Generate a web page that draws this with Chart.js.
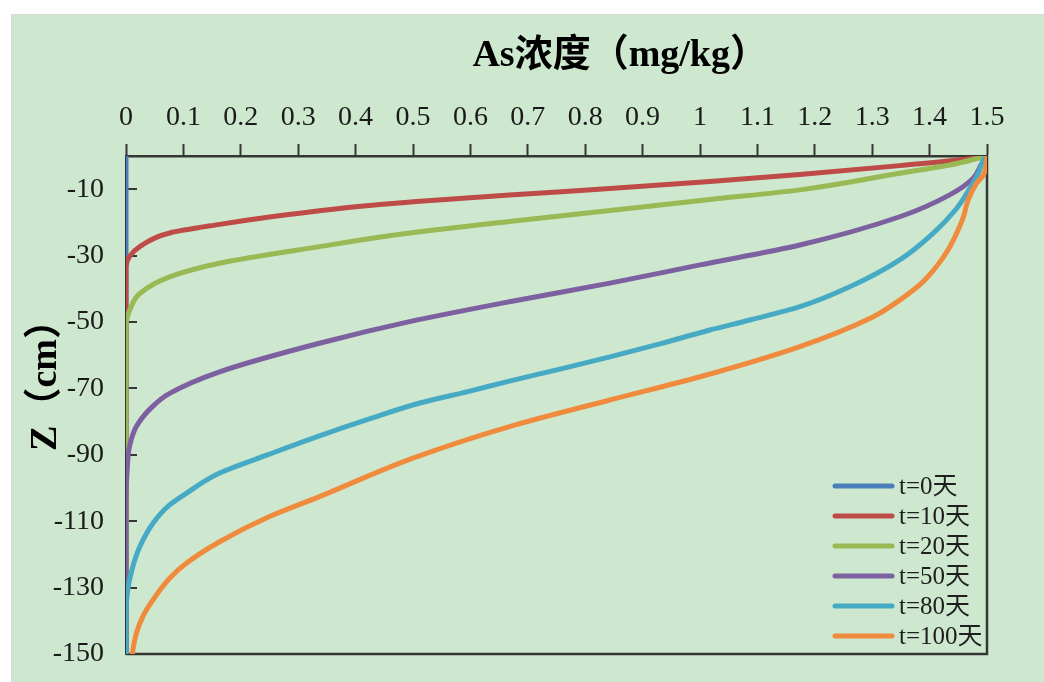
<!DOCTYPE html>
<html>
<head>
<meta charset="utf-8">
<script src="https://cdn.jsdelivr.net/npm/chart.js@4.4.1/dist/chart.umd.min.js"></script>
<style>
  html, body { margin: 0; padding: 0; background: #ffffff; }
  #frame {
    position: absolute; left: 11px; top: 14px; width: 1033px; height: 668px;
    box-sizing: border-box; background: #cde8cf;
    border-left: 1px solid #d8d8d8; border-top: 1px solid #d8d8d8;
  }
  #wrap { position: absolute; left: 0; top: 0; width: 1032px; height: 667px; }
</style>
</head>
<body>
<div id="frame"><div id="wrap"><canvas id="c"></canvas></div></div>
<script>
// Axis ticks
const xTicks = [0, 0.1, 0.2, 0.3, 0.4, 0.5, 0.6, 0.7, 0.8, 0.9, 1, 1.1, 1.2, 1.3, 1.4, 1.5];
const yTicks = [-150, -130, -110, -90, -70, -50, -30, -10];

// Series labels and colours
const seriesLabels = ['t=0天', 't=10天', 't=20天', 't=50天', 't=80天', 't=100天'];
const seriesColors = ['#4a7ebb', '#be4b48', '#98b954', '#7d60a0', '#46aac5', '#f08a3c'];

// Depth (cm) and As concentration (mg/kg) for each time
const depthT0 = [0, -150];
const concT0  = [0, 0];

const depthT10 = [0, -0.45, -2.9, -5.6, -7.7, -9.8, -11.75, -12.6, -13.6, -14.9, -16.5, -18.4, -20.6, -23.2, -27.3, -30.3, -33.4, -150];
const concT10  = [1.5, 1.488, 1.348, 1.174, 1.017, 0.843, 0.668, 0.599, 0.512, 0.424, 0.337, 0.250, 0.163, 0.076, 0.024, 0.006, 0, 0];

const depthT20 = [0, -2.7, -5.2, -10.2, -13.1, -16.4, -19.7, -23.2, -27.3, -32.3, -36.4, -41.4, -45.4, -51.4, -150];
const concT20  = [1.5, 1.435, 1.348, 1.174, 1.017, 0.843, 0.668, 0.494, 0.337, 0.163, 0.076, 0.024, 0.009, 0, 0];

const depthT50 = [0, -2.2, -6.7, -11.7, -18.3, -26.8, -32.8, -38.3, -43.9, -49.9, -56.4, -65.0, -71.5, -75.5, -81.5, -87.6, -94.6, -103.6, -150];
const concT50  = [1.5, 1.491, 1.476, 1.435, 1.348, 1.174, 1.0, 0.843, 0.668, 0.494, 0.337, 0.163, 0.076, 0.046, 0.018, 0.006, 0.002, 0, 0];

const depthT80 = [0, -1.2, -5.2, -11.2, -15.8, -23.3, -31.3, -39.4, -45.4, -49.4, -52.4, -56.6, -60.5, -64.2, -67.8, -70.8, -74.4, -79.2, -84.3, -89.8, -95.5, -101.6, -105.1, -110.6, -117.7, -123.6, -130.7, -138, -150];
const concT80  = [1.5, 1.494, 1.485, 1.465, 1.447, 1.406, 1.348, 1.261, 1.174, 1.087, 1.017, 0.930, 0.843, 0.756, 0.668, 0.599, 0.512, 0.424, 0.337, 0.250, 0.163, 0.105, 0.076, 0.047, 0.024, 0.012, 0.003, 0, 0];

const depthT100 = [0, -5.7, -8.2, -13.3, -18.3, -23.3, -28.3, -33.3, -38.3, -43.4, -48.4, -57.4, -66.5, -73.5, -81.5, -91.0, -102.6, -108.6, -116.2, -122.7, -127.2, -133.7, -138.8, -143.8, -148.8, -150];
const concT100  = [1.5, 1.494, 1.482, 1.467, 1.459, 1.447, 1.432, 1.412, 1.386, 1.348, 1.302, 1.174, 1.0, 0.843, 0.668, 0.50, 0.337, 0.250, 0.163, 0.105, 0.076, 0.047, 0.029, 0.018, 0.012, 0.011];

const depths = [depthT0, depthT10, depthT20, depthT50, depthT80, depthT100];
const concs  = [concT0, concT10, concT20, concT50, concT80, concT100];

const AXIS = '#363636';
const SERIF = "'Liberation Serif', 'Noto Sans CJK SC', serif";

const datasets = seriesLabels.map((label, i) => ({
  label,
  data: depths[i].map((d, k) => ({ x: concs[i][k], y: d })),
  borderColor: seriesColors[i],
  backgroundColor: seriesColors[i],
  borderWidth: 5,
  borderCapStyle: 'round',
  borderJoinStyle: 'round',
  pointRadius: 0,
  fill: false,
  cubicInterpolationMode: 'monotone',
  order: seriesLabels.length - i
}));

// Frame lines, inner y ticks, axis titles and the legend box
const decor = {
  id: 'decor',
  beforeDatasetsDraw(chart) {
    const { ctx, chartArea: a, scales: { y } } = chart;
    ctx.save();
    ctx.strokeStyle = AXIS;
    ctx.lineWidth = 2.5;
    ctx.beginPath();
    ctx.moveTo(a.right, a.top);
    ctx.lineTo(a.right, a.bottom);
    ctx.lineTo(a.left, a.bottom);
    ctx.stroke();
    ctx.lineWidth = 2;
    yTicks.forEach(v => {
      const py = Math.round(y.getPixelForValue(v));
      ctx.beginPath();
      ctx.moveTo(a.left, py);
      ctx.lineTo(a.left + 11, py);
      ctx.stroke();
    });
    ctx.restore();
  },
  afterDatasetsDraw(chart) {
    const { ctx, chartArea: a } = chart;
    ctx.save();
    // legend
    ctx.font = '25px ' + SERIF;
    ctx.textBaseline = 'middle';
    ctx.textAlign = 'left';
    seriesLabels.forEach((label, i) => {
      const yy = a.bottom - 168 + i * 30;
      ctx.strokeStyle = seriesColors[i];
      ctx.lineWidth = 5;
      ctx.lineCap = 'round';
      ctx.beginPath();
      ctx.moveTo(a.right - 152, yy);
      ctx.lineTo(a.right - 95, yy);
      ctx.stroke();
      ctx.fillStyle = '#1e1e1e';
      ctx.fillText(label, a.right - 88, yy + 1);
    });
    // axis titles
    ctx.fillStyle = '#000';
    ctx.font = 'bold 38px ' + SERIF;
    ctx.textAlign = 'center';
    ctx.fillText('As浓度（mg/kg）', a.left + (a.right - a.left) * 0.574, 41);
    ctx.font = 'bold 38px ' + SERIF;
    ctx.translate(34, 361);
    ctx.rotate(-Math.PI / 2);
    ctx.fillText('Z（cm）', 0, 0);
    ctx.restore();
  }
};

new Chart(document.getElementById('c'), {
  type: 'line',
  data: { datasets },
  plugins: [decor],
  options: {
    responsive: true,
    maintainAspectRatio: false,
    animation: false,
    indexAxis: 'y',
    layout: { padding: { left: 0, top: 0, right: 57, bottom: 28 } },
    plugins: { legend: { display: false }, tooltip: { enabled: false }, title: { display: false } },
    scales: {
      x: {
        type: 'linear', position: 'top', min: 0, max: 1.5,
        afterBuildTicks: s => { s.ticks = xTicks.map(v => ({ value: v })); },
        afterFit: s => { s.height = 141; },
        grid: { display: true, drawOnChartArea: false, drawTicks: true, tickLength: 12, tickWidth: 2, tickColor: AXIS, color: AXIS },
        border: { display: true, color: AXIS, width: 2.5 },
        ticks: {
          autoSkip: false, maxRotation: 0, padding: 10, color: '#1a1a1a',
          font: { family: SERIF, size: 28 },
          callback: v => String(Math.round(v * 10) / 10)
        }
      },
      y: {
        type: 'linear', position: 'left', min: -150, max: 0,
        afterBuildTicks: s => { s.ticks = yTicks.map(v => ({ value: v })); },
        afterFit: s => { s.width = 114; s.paddingTop = 0; s.paddingBottom = 0; },
        grid: { display: false, drawTicks: false },
        border: { display: true, color: AXIS, width: 2.5 },
        ticks: {
          autoSkip: false, padding: 22, color: '#1a1a1a',
          font: { family: SERIF, size: 28 },
          callback: v => String(v)
        }
      }
    }
  }
});
</script>
</body>
</html>
